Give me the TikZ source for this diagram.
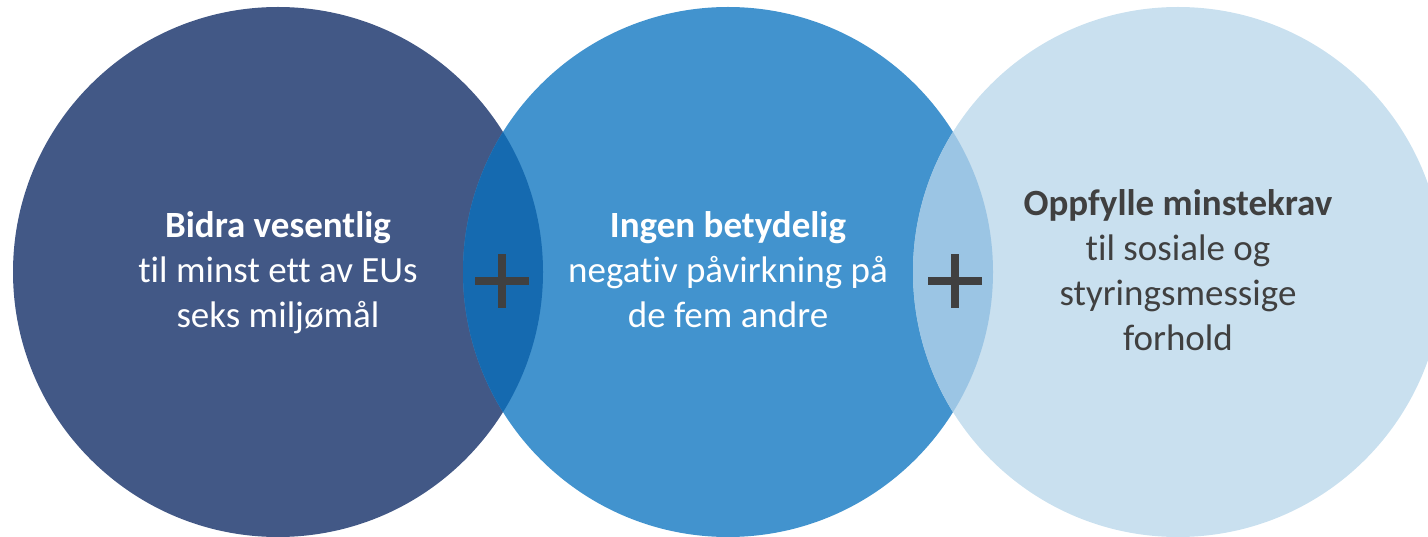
\documentclass[tikz,border=0pt]{standalone}
\usepackage{fontspec}
\setmainfont[Ligatures=NoCommon]{Carlito}
\definecolor{cleft}{HTML}{425886}
\definecolor{cmid}{HTML}{4293CE}
\definecolor{cright}{HTML}{C9E0EF}
\definecolor{covA}{HTML}{156AB0}
\definecolor{covB}{HTML}{9BC5E4}
\definecolor{cplus}{HTML}{404040}
\begin{document}
\begin{tikzpicture}[x=1pt,y=-1pt,
  txt/.style={anchor=base,inner sep=0pt,font=\fontsize{37}{45}\selectfont},
  plusbar/.style={draw=cplus,line width=8pt}]
\useasboundingbox (0,0) rectangle (1428,537);
\clip (0,0) rectangle (1428,537);
\coordinate (L) at (278,272);
\coordinate (M) at (728,272);
\coordinate (R) at (1178,272);
\def\rad{265}
\fill[cleft] (L) circle (\rad);
\fill[cmid] (M) circle (\rad);
\fill[cright] (R) circle (\rad);
\begin{scope}
  \clip (L) circle (\rad);
  \fill[covA] (M) circle (\rad);
\end{scope}
\begin{scope}
  \clip (M) circle (\rad);
  \fill[covB] (R) circle (\rad);
\end{scope}
% left texts
\node[txt,text=white] (l1) at (278,238) {\bfseries Bidra vesentlig};
\node[txt,text=white] (l2) at (278,283) {til minst ett av EUs};
\node[txt,text=white] (l3) at (278,328) {seks miljømål};
% middle texts
\node[txt,text=white] (m1) at (728,238) {\bfseries Ingen betydelig};
\node[txt,text=white] (m2) at (728,283) {negativ påvirkning på};
\node[txt,text=white] (m3) at (728,328) {de fem andre};
% right texts
\node[txt,text=cplus] (r1) at (1178,216) {\bfseries Oppfylle minstekrav};
\node[txt,text=cplus] (r2) at (1178,261) {til sosiale og};
\node[txt,text=cplus] (r3) at (1178,306) {styringsmessige};
\node[txt,text=cplus] (r4) at (1178,351) {forhold};
% plus signs
\coordinate (p1) at (502,281);
\coordinate (p2) at (955,281);
\foreach \p in {p1,p2}{
  \draw[plusbar] ([xshift=-27pt]\p) -- ([xshift=27pt]\p);
  \draw[plusbar] ([yshift=-27pt]\p) -- ([yshift=27pt]\p);
}
\end{tikzpicture}
\end{document}
